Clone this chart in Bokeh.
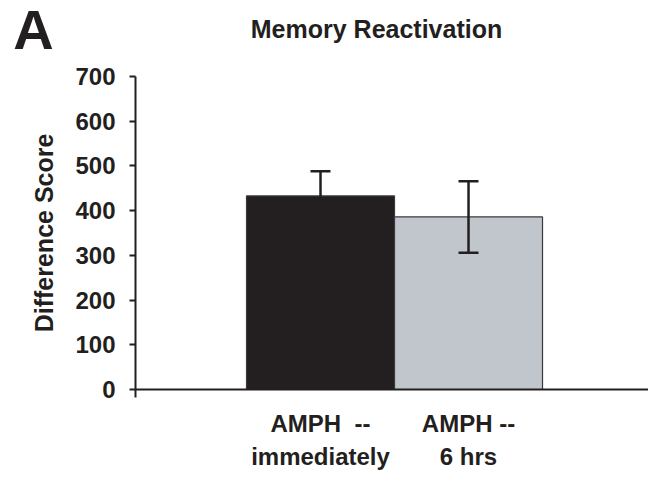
from bokeh.plotting import figure
from bokeh.layouts import column
from bokeh.models import (Range1d, FixedTicker, Whisker, ColumnDataSource,
                          TeeHead, LinearAxis)
from bokeh.core.properties import value
from bokeh.embed import file_html
from bokeh.resources import INLINE

# Data
groups = ["AMPH\u00a0\u00a0--\nimmediately", "AMPH --\n6 hrs"]
means = [433, 386]
sems = [55, 80]
bar_colors = ["#231f20", "#c1c5cc"]
y_ticks = [0, 100, 200, 300, 400, 500, 600, 700]
title_text = "Memory Reactivation"
panel_letter = "A"

FONT = "Liberation Sans"
INK = "#231f20"
HEAD_H = 62

# ---- header strip: panel letter and title ----
head = figure(width=648, height=HEAD_H, output_backend="svg", toolbar_location=None,
              x_range=Range1d(0, 648), y_range=Range1d(HEAD_H, 0),
              x_axis_location=None, y_axis_location=None,
              min_border=0)
if "frame_align" in head.properties():
    head.frame_align = False
head.outline_line_color = None
head.grid.visible = False
head.text(x=[33], y=[29], text=[panel_letter], text_align="center",
          text_baseline="middle", text_font=value(FONT),
          text_font_style="bold", text_font_size="56px", text_color=INK)
head.text(x=[376], y=[28], text=[title_text], text_align="center",
          text_baseline="middle", text_font=value(FONT),
          text_font_style="bold", text_font_size="25px", text_color=INK)

# ---- bar chart ----
xs = [i + 1 for i in range(len(means))]
src = ColumnDataSource(dict(
    x=xs, top=means, color=bar_colors,
    upper=[m + s for m, s in zip(means, sems)],
    lower=[m - s for m, s in zip(means, sems)],
))

x_lo, x_hi = -0.25, 3.216
p = figure(width=648, height=481 - HEAD_H, output_backend="svg", toolbar_location=None,
           x_range=Range1d(x_lo, x_hi), y_range=Range1d(0, 700),
           min_border_left=135, min_border_right=0, min_border_top=76 - HEAD_H,
           min_border_bottom=92)
if "frame_align" in p.properties():
    p.frame_align = False
p.outline_line_color = None
p.grid.visible = False

p.vbar(x="x", top="top", width=1.0, bottom=0, fill_color="color",
       line_color="#3a3a3a", line_width=1.2, source=src)

head_style = dict(size=20, line_color=INK, line_width=2.5)
whisk = Whisker(base="x", upper="upper", lower="lower", source=src,
                line_color=INK, line_width=2.5, level="overlay",
                upper_head=TeeHead(**head_style), lower_head=TeeHead(**head_style))
p.add_layout(whisk)

# y axis
ya = p.yaxis[0]
ya.ticker = FixedTicker(ticks=y_ticks)
ya.axis_line_color = INK
ya.axis_line_width = 2
ya.major_tick_line_color = INK
ya.major_tick_line_width = 2
ya.major_tick_out = 6
ya.major_tick_in = 0
ya.minor_tick_line_color = None
ya.major_label_text_font = FONT
ya.major_label_text_font_style = "bold"
ya.major_label_text_font_size = "24px"
ya.major_label_text_color = INK
ya.major_label_standoff = 14
ya.axis_label = "Difference Score"
ya.axis_label_text_font = FONT
ya.axis_label_text_font_style = "bold"
ya.axis_label_text_font_size = "25px"
ya.axis_label_text_color = INK
ya.axis_label_standoff = 14

# x axis: baseline with a single stub at its left end
xa = p.xaxis[0]
xa.ticker = FixedTicker(ticks=[x_lo])
xa.major_label_overrides = {x_lo: ""}
xa.axis_line_color = INK
xa.axis_line_width = 2
xa.major_tick_line_color = INK
xa.major_tick_line_width = 2
xa.major_tick_out = 8
xa.major_tick_in = 0
xa.major_label_standoff = 0
xa.minor_tick_line_color = None

# group names under each bar
cat_axis = LinearAxis(ticker=FixedTicker(ticks=xs),
                      major_label_overrides={x: g for x, g in zip(xs, groups)},
                      axis_line_color=None, major_tick_line_color=None,
                      minor_tick_line_color=None, major_tick_out=0, major_tick_in=0,
                      major_label_standoff=12,
                      major_label_text_font=FONT, major_label_text_font_style="bold",
                      major_label_text_font_size="24px",
                      major_label_text_line_height=1.25,
                      major_label_text_color=INK)
p.add_layout(cat_axis, "below")

layout = column(head, p, spacing=0)
open("out.html", "w").write(file_html(layout, INLINE))
